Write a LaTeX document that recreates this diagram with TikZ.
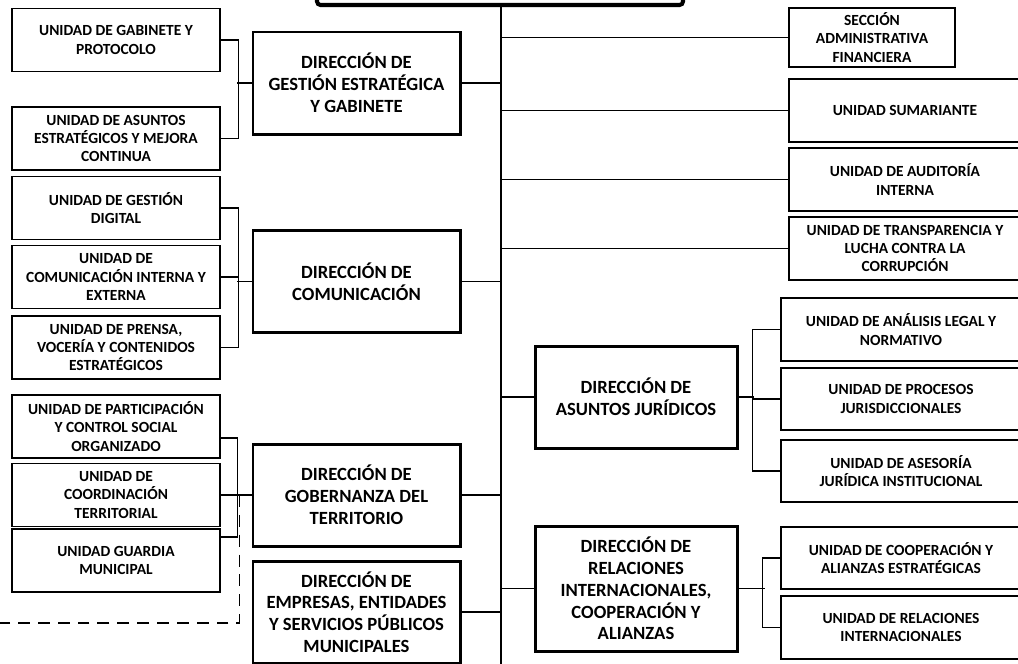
\documentclass[tikz,border=0pt]{standalone}
\usepackage{fontspec}
\setmainfont{Carlito}
\usepackage{tikz}
\usetikzlibrary{calc}

\tikzset{
  unitbox/.style={draw, line width=0.75pt, align=center, inner sep=0pt,
    font=\fontsize{8.8}{10.4}\selectfont\bfseries,
    minimum width=4.16cm, minimum height=1.26cm},
  dirbox/.style={draw, line width=1.7pt, align=center, inner sep=0pt,
    font=\fontsize{10.6}{12.4}\selectfont\bfseries,
    minimum width=4.14cm, minimum height=2.04cm},
  link/.style={line width=0.7pt},
  spine/.style={line width=1.2pt},
  dashedlink/.style={line width=0.7pt, dash pattern=on 6.8pt off 4.5pt}
}

\begin{document}
\begin{tikzpicture}[scale=0.2]
\useasboundingbox (0,0) rectangle (101.8,-66.3);
\clip (0,0) rectangle (101.8,-66.3);
% top box and main line
\node [draw, line width=2.3pt, rounded corners=2pt, minimum width=7.32cm, minimum height=1.2cm] (top) at (50.0,2.5) {};
\coordinate (spineend) at (50.1,-67);
\draw [spine] (top.south -| spineend) -- (spineend);
% left column: units
\node [unitbox] (gab) at (11.6,-4.0) {UNIDAD DE GABINETE Y\\PROTOCOLO};
\node [unitbox] (ase) at (11.6,-13.85) {UNIDAD DE ASUNTOS\\ESTRATÉGICOS Y MEJORA\\CONTINUA};
\node [unitbox] (dig) at (11.6,-20.8) {UNIDAD DE GESTIÓN\\DIGITAL};
\node [unitbox] (com) at (11.6,-27.7) {UNIDAD DE\\COMUNICACIÓN INTERNA Y\\EXTERNA};
\node [unitbox] (pre) at (11.6,-34.75) {UNIDAD DE PRENSA,\\VOCERÍA Y CONTENIDOS\\ESTRATÉGICOS};
\node [unitbox] (par) at (11.6,-42.65) {UNIDAD DE PARTICIPACIÓN\\Y CONTROL SOCIAL\\ORGANIZADO};
\node [unitbox] (coo) at (11.6,-49.5) {UNIDAD DE\\COORDINACIÓN\\TERRITORIAL};
\node [unitbox] (gua) at (11.6,-56.05) {UNIDAD GUARDIA\\MUNICIPAL};
% left column: directions
\node [dirbox] (dges) at (35.65,-8.3) {DIRECCIÓN DE\\GESTIÓN ESTRATÉGICA\\Y GABINETE};
\node [dirbox] (dcom) at (35.65,-28.15) {DIRECCIÓN DE\\COMUNICACIÓN};
\node [dirbox] (dgob) at (35.65,-49.5) {DIRECCIÓN DE\\GOBERNANZA DEL\\TERRITORIO};
\node [dirbox] (demp) at (35.65,-61.2) {DIRECCIÓN DE\\EMPRESAS, ENTIDADES\\Y SERVICIOS PÚBLICOS\\MUNICIPALES};
% right column: units on the main line
\node [unitbox, minimum width=3.32cm, minimum height=1.18cm] (sec) at (87.2,-3.75) {SECCIÓN\\ADMINISTRATIVA\\FINANCIERA};
\node [unitbox, minimum width=4.64cm] (sum) at (90.5,-11.05) {UNIDAD SUMARIANTE};
\node [unitbox, minimum width=4.64cm] (aud) at (90.5,-17.95) {UNIDAD DE AUDITORÍA\\INTERNA};
\node [unitbox, minimum width=4.64cm] (tra) at (90.5,-24.85) {UNIDAD DE TRANSPARENCIA Y\\LUCHA CONTRA LA\\CORRUPCIÓN};
% right column: directions
\node [dirbox, minimum width=4.04cm] (djur) at (63.6,-39.7) {DIRECCIÓN DE\\ASUNTOS JURÍDICOS};
\node [dirbox, minimum width=4.04cm, minimum height=2.5cm] (drel) at (63.6,-58.85) {DIRECCIÓN DE\\RELACIONES\\INTERNACIONALES,\\COOPERACIÓN Y\\ALIANZAS};
\node [unitbox, minimum width=4.8cm] (ana) at (90.1,-32.95) {UNIDAD DE ANÁLISIS LEGAL Y\\NORMATIVO};
\node [unitbox, minimum width=4.8cm, minimum height=1.24cm] (pro) at (90.1,-39.9) {UNIDAD DE PROCESOS\\JURISDICCIONALES};
\node [unitbox, minimum width=4.8cm, minimum height=1.24cm] (aju) at (90.1,-47.1) {UNIDAD DE ASESORÍA\\JURÍDICA INSTITUCIONAL};
\node [unitbox, minimum width=4.8cm, minimum height=1.24cm] (coop) at (90.1,-55.8) {UNIDAD DE COOPERACIÓN Y\\ALIANZAS ESTRATÉGICAS};
\node [unitbox, minimum width=4.8cm] (rin) at (90.1,-62.75) {UNIDAD DE RELACIONES\\INTERNACIONALES};
% links to main line
\foreach \n in {dges,dcom,dgob,demp}
  \draw [link] (\n.east) -- (\n.east -| spineend);
\foreach \n in {sec,sum,aud,tra,djur,drel}
  \draw [link] (\n.west) -- (\n.west -| spineend);
% brackets
\draw [link] (gab.east) -- ++(1.8,0) |- (ase.east);
\draw [link] (dges.west) -- ++(-1.5,0);
\draw [link] (dig.east) -- ++(1.8,0) |- (pre.east);
\draw [link] (com.east) -- ++(1.8,0);
\draw [link] (dcom.west) -- ++(-1.5,0);
\draw [link] ($(par.east)+(0,-1.15)$) -- ++(1.7,0) |- ($(gua.east)+(0,2.35)$);
\draw [link] (coo.east) -- (dgob.west);
\coordinate (dashend) at (0,-62.3);
\draw [dashedlink] ($(dgob.west)+(-1.2,0)$) |- (dashend);
\draw [link] (ana.west) -- ++(-2.8,0) |- (aju.west);
\draw [link] (pro.west) -- ++(-2.8,0);
\draw [link] (djur.east) -- ++(1.6,0);
\draw [link] (coop.west) -- ++(-1.8,0) |- (rin.west);
\draw [link] (drel.east) -- ++(2.6,0);
\end{tikzpicture}
\end{document}
